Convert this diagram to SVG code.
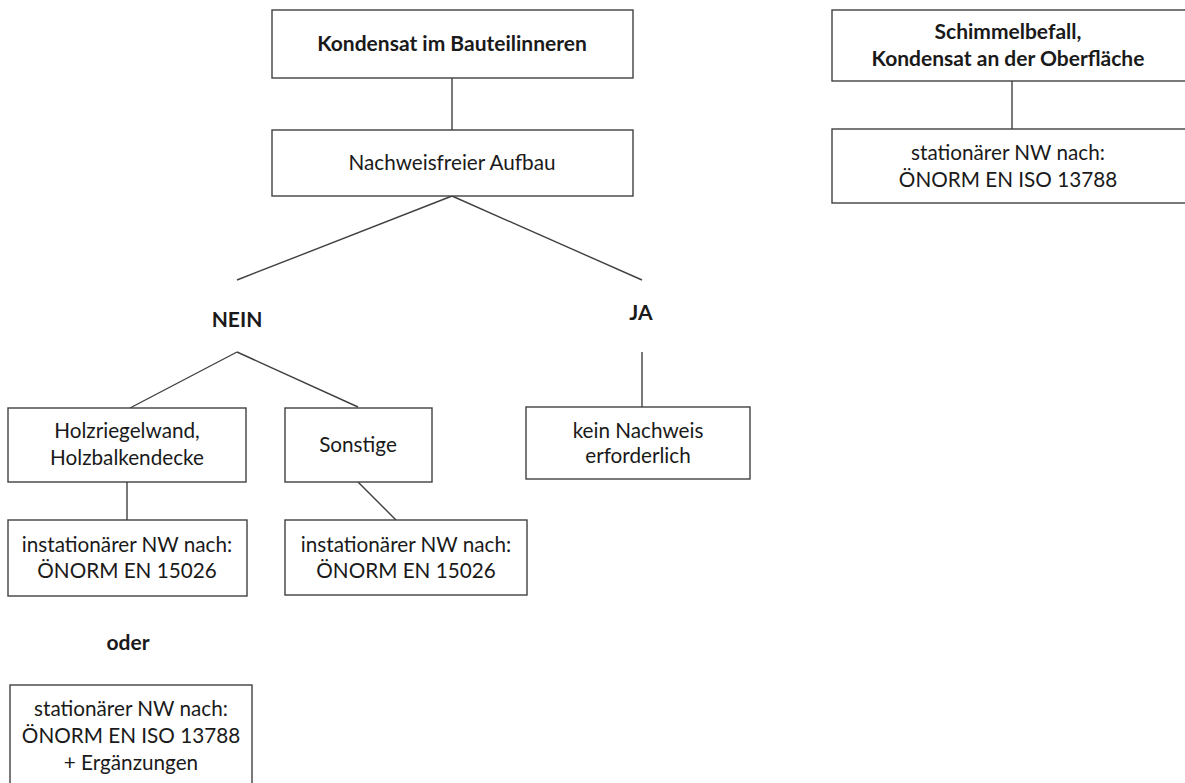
<svg xmlns="http://www.w3.org/2000/svg" width="1185" height="783" viewBox="0 0 1185 783">
<style>
.box{fill:#fff;stroke:#404040;stroke-width:1.4}
.ln{fill:none;stroke:#404040;stroke-width:1.4}
text{font-family:Lato,"Open Sans",sans-serif;font-size:20.7px;fill:#1a1a1a;text-anchor:middle}
.b{font-weight:bold;font-size:21px}
</style>
<rect width="1185" height="783" fill="#fff"/>
<g id="connectors">
<line class="ln" x1="452" y1="78" x2="452" y2="130"/>
<line class="ln" x1="452" y1="196" x2="237" y2="280"/>
<line class="ln" x1="452" y1="196" x2="642" y2="280"/>
<line class="ln" x1="237" y1="352" x2="130" y2="408"/>
<line class="ln" x1="237" y1="352" x2="358" y2="407"/>
<line class="ln" x1="642" y1="352" x2="642" y2="407"/>
<line class="ln" x1="127" y1="482" x2="127" y2="520"/>
<line class="ln" x1="358" y1="482" x2="396" y2="520"/>
<line class="ln" x1="1012" y1="81" x2="1012" y2="129"/>
</g>
<g id="n_kondensat">
<rect class="box" x="272" y="10" width="361" height="68"/>
<text class="b" x="452" y="51">Kondensat im Bauteilinneren</text>
</g>
<g id="n_nachweisfrei">
<rect class="box" x="272" y="130" width="361" height="66"/>
<text x="452" y="170">Nachweisfreier Aufbau</text>
</g>
<g id="n_nein"><text class="b" x="237" y="327">NEIN</text></g>
<g id="n_ja"><text class="b" x="641" y="320">JA</text></g>
<g id="n_holz">
<rect class="box" x="8" y="408" width="238" height="74"/>
<text x="127" y="438">Holzriegelwand,</text>
<text x="127" y="465">Holzbalkendecke</text>
</g>
<g id="n_sonstige">
<rect class="box" x="285" y="408" width="147" height="74"/>
<text x="358" y="452">Sonstige</text>
</g>
<g id="n_kein">
<rect class="box" x="526" y="407" width="224" height="72"/>
<text x="638" y="438">kein Nachweis</text>
<text x="638" y="463">erforderlich</text>
</g>
<g id="n_inst1">
<rect class="box" x="8" y="520" width="239" height="76"/>
<text x="127" y="552">instationärer NW nach:</text>
<text x="127" y="578">ÖNORM EN 15026</text>
</g>
<g id="n_inst2">
<rect class="box" x="285" y="520" width="242" height="75"/>
<text x="406" y="552">instationärer NW nach:</text>
<text x="406" y="578">ÖNORM EN 15026</text>
</g>
<g id="n_oder"><text class="b" x="128" y="650">oder</text></g>
<g id="n_stat_erg">
<rect class="box" x="10" y="685" width="242" height="110"/>
<text x="131" y="716">stationärer NW nach:</text>
<text x="131" y="743">ÖNORM EN ISO 13788</text>
<text x="131" y="770">+ Ergänzungen</text>
</g>
<g id="n_schimmel">
<rect class="box" x="832" y="10" width="360" height="71"/>
<text class="b" x="1008" y="39">Schimmelbefall,</text>
<text class="b" x="1008" y="66">Kondensat an der Oberfläche</text>
</g>
<g id="n_stat">
<rect class="box" x="832" y="129" width="360" height="74"/>
<text x="1008" y="160">stationärer NW nach:</text>
<text x="1008" y="187">ÖNORM EN ISO 13788</text>
</g>
</svg>
